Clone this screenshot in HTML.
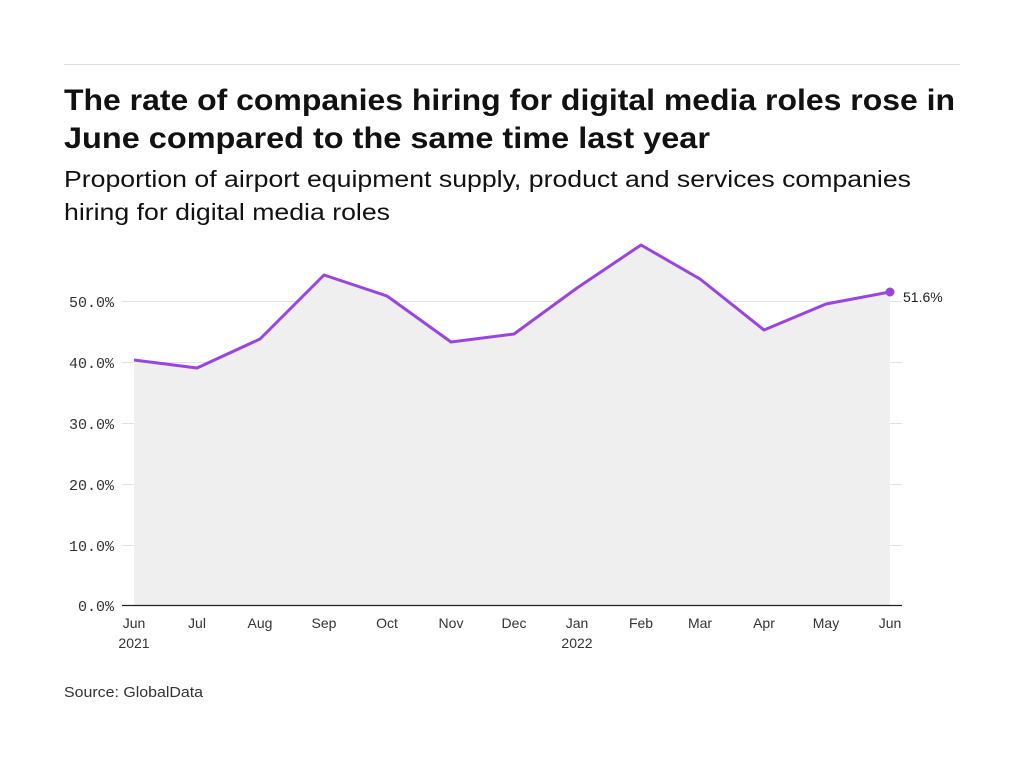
<!DOCTYPE html>
<html><head><meta charset="utf-8"><style>
body{margin:0;background:#fff;width:1024px;height:768px;overflow:hidden;font-family:"Liberation Sans",sans-serif}
</style></head><body>
<svg width="1024" height="768" xmlns="http://www.w3.org/2000/svg">
<line x1="64" y1="64.5" x2="960" y2="64.5" stroke="#ddd" stroke-width="1"/>
<text x="64" y="110" font-size="30" font-weight="bold" fill="#111" font-family="Liberation Sans, sans-serif" textLength="891" lengthAdjust="spacingAndGlyphs">The rate of companies hiring for digital media roles rose in</text>
<text x="64" y="148" font-size="30" font-weight="bold" fill="#111" font-family="Liberation Sans, sans-serif" textLength="646" lengthAdjust="spacingAndGlyphs">June compared to the same time last year</text>
<text x="64" y="187" font-size="23" fill="#111" font-family="Liberation Sans, sans-serif" textLength="847" lengthAdjust="spacingAndGlyphs">Proportion of airport equipment supply, product and services companies</text>
<text x="64" y="220" font-size="23" fill="#111" font-family="Liberation Sans, sans-serif" textLength="326" lengthAdjust="spacingAndGlyphs">hiring for digital media roles</text>
<g stroke="#e3e3e3" stroke-width="1">
<line x1="122" x2="902" y1="301.5" y2="301.5"/>
<line x1="122" x2="902" y1="362.5" y2="362.5"/>
<line x1="122" x2="902" y1="423.5" y2="423.5"/>
<line x1="122" x2="902" y1="484.5" y2="484.5"/>
<line x1="122" x2="902" y1="545.5" y2="545.5"/>
</g>
<polygon fill="#efefef" points="134,605 134,360 197,368 260,339 324,275 387,296 451,342 514,334 577,288 641,245 700,279 764,330 826,304 890,292 890,605"/>
<line x1="122" x2="902" y1="605.5" y2="605.5" stroke="#222" stroke-width="1.2"/>
<polyline fill="none" stroke="#9b45e0" stroke-width="3" stroke-linejoin="round" points="134,360 197,368 260,339 324,275 387,296 451,342 514,334 577,288 641,245 700,279 764,330 826,304 890,292"/>
<circle cx="890" cy="292" r="4.5" fill="#9b45e0"/>
<text x="903" y="302" font-size="14" fill="#222" font-family="Liberation Sans, sans-serif">51.6%</text>
<g font-family="Liberation Mono, monospace" font-size="15" fill="#333" text-anchor="end">
<text x="114" y="307">50.0%</text>
<text x="114" y="368">40.0%</text>
<text x="114" y="429">30.0%</text>
<text x="114" y="490">20.0%</text>
<text x="114" y="551">10.0%</text>
<text x="114" y="611">0.0%</text>
</g>
<g font-family="Liberation Sans, sans-serif" font-size="14" fill="#333" text-anchor="middle">
<text x="134" y="628">Jun</text><text x="134" y="648">2021</text>
<text x="197" y="628">Jul</text>
<text x="260" y="628">Aug</text>
<text x="324" y="628">Sep</text>
<text x="387" y="628">Oct</text>
<text x="451" y="628">Nov</text>
<text x="514" y="628">Dec</text>
<text x="577" y="628">Jan</text><text x="577" y="648">2022</text>
<text x="641" y="628">Feb</text>
<text x="700" y="628">Mar</text>
<text x="764" y="628">Apr</text>
<text x="826" y="628">May</text>
<text x="890" y="628">Jun</text>
</g>
<text x="64" y="697" font-size="15" fill="#333" font-family="Liberation Sans, sans-serif" textLength="139" lengthAdjust="spacingAndGlyphs">Source: GlobalData</text>
</svg>
</body></html>
